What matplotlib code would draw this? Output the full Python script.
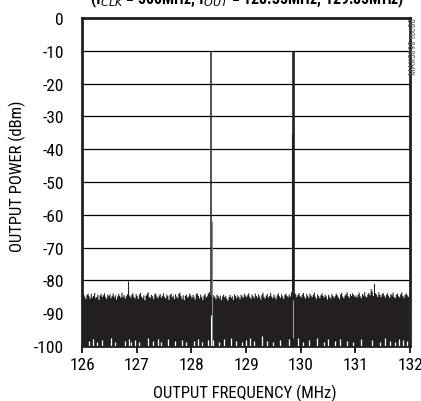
import numpy as np
import matplotlib
matplotlib.use("Agg")
import matplotlib.pyplot as plt
from matplotlib import font_manager

# condensed face if there is one, else plain Liberation Sans
installed = {f.name for f in font_manager.fontManager.ttflist}
family = 'Liberation Sans'
for name in ['Liberation Sans Narrow', 'Roboto Condensed', 'Arial Narrow']:
    if name in installed:
        family = name
        break
condensed = family != 'Liberation Sans'
plt.rcParams['font.family'] = [family, 'DejaVu Sans']

# noise floor, top edge of the trace, 0.02 MHz bins from 126 MHz
noise_freq_start = 126.0
noise_freq_step = 0.02
noise_top = [
    -85.2, -84.1, -84.8, -85.6, -84.3, -83.9, -84.7, -85.4, -84.0, -85.1, -84.6, -83.7, -85.3,
    -84.9, -84.2, -85.8, -84.5, -84.0, -85.0, -84.4, -83.8, -84.9, -85.5, -84.2, -84.7,
    -84.1, -85.3, -84.6, -83.9, -85.0, -84.4, -85.7, -84.8, -84.0, -84.6, -85.2, -83.6, -84.9,
    -84.3, -85.4, -84.7, -84.1, -80.2, -84.5, -85.1, -84.3, -83.8, -84.9, -85.4, -84.0,
    -84.6, -85.5, -84.2, -83.7, -84.8, -85.3, -84.4, -85.9, -84.6, -84.0, -83.5, -84.9, -85.2,
    -84.3, -84.7, -85.6, -84.1, -83.9, -84.8, -85.3, -84.5, -84.0, -85.1, -84.6, -83.8,
    -84.9, -85.4, -84.2, -84.7, -85.8, -84.3, -83.9, -85.0, -84.5, -85.6, -84.1, -84.8, -85.3,
    -84.0, -83.6, -84.7, -85.5, -84.4, -85.9, -84.6, -84.2, -85.1, -84.8, -83.9, -84.5,
    -85.2, -84.3, -84.9, -85.7, -84.1, -83.8, -84.6, -85.4, -84.2, -84.9, -85.8, -84.5, -84.0,
    -85.1, -84.7, -83.9, -83.4, -84.3, -84.8, -85.2, -84.4, -84.9, -85.6, -84.2, -84.7,
    -85.3, -84.5, -85.9, -84.8, -84.2, -85.0, -84.6, -85.5, -86.0, -84.9, -84.3, -85.2, -84.7,
    -85.8, -84.1, -84.6, -85.3, -84.4, -84.9, -85.6, -84.2, -84.8, -85.1, -84.0, -84.5,
    -85.0, -84.4, -83.8, -84.9, -85.5, -84.2, -84.7, -85.3, -83.9, -84.6, -85.2, -84.1, -84.8,
    -85.7, -84.3, -83.6, -84.9, -85.4, -84.5, -84.0, -85.1, -84.6, -83.7, -84.8, -85.3,
    -84.2, -84.9, -85.6, -84.4, -83.8, -84.7, -85.2, -84.1, -84.8, -85.5, -84.3, -83.9, -84.6,
    -85.0, -84.2, -84.8, -83.5, -83.2, -84.4, -83.6, -84.1, -84.9, -84.3, -83.7, -84.6,
    -85.1, -84.2, -83.7, -84.8, -85.4, -84.0, -84.6, -85.2, -83.9, -84.5, -85.0, -84.3, -83.6,
    -84.9, -85.5, -84.1, -84.7, -85.3, -84.4, -83.8, -84.6, -85.1, -84.2, -84.8, -85.7,
    -84.3, -84.9, -85.4, -84.0, -84.6, -85.2, -84.7, -83.9, -84.4, -85.0, -85.6, -84.2, -83.7,
    -84.8, -85.3, -84.5, -84.1, -83.5, -84.7, -85.2, -84.0, -84.6, -83.8, -84.3, -84.9,
    -84.5, -85.1, -84.2, -83.6, -84.7, -85.3, -84.0, -84.5, -83.4, -84.8, -85.0, -84.1, -83.7,
    -84.4, -82.5, -83.3, -84.6, -81.0, -83.8, -84.2, -84.9, -83.5, -84.3, -85.0, -84.1,
    -83.7, -84.5, -85.1, -84.3, -83.8, -84.6, -85.2, -84.0, -84.4, -83.6, -84.9, -85.3, -84.2,
    -83.9, -84.7, -85.0, -84.1, -83.5, -84.6, -85.2, -84.3, -83.8, -84.4, -84.9, -84.2,
]

# white gaps at the bottom of the noise (where the trace stayed above -100 dBm)
gap_freq = [126.12, 126.20, 126.27, 126.36, 126.52, 126.60, 126.78, 126.85, 126.90, 126.97,
            127.05, 127.20, 127.30, 127.38, 127.45, 127.58, 127.70, 127.82, 127.90, 128.05,
            128.12, 128.20, 128.30, 128.40, 128.50, 128.60, 128.72, 128.82, 128.92, 129.00,
            129.08, 129.14, 129.30, 129.38, 129.50, 129.62, 129.78, 129.95, 130.05, 130.15,
            130.30, 130.42, 130.50, 130.62, 130.72, 130.85, 130.95, 131.10, 131.30, 131.45,
            131.55, 131.63, 131.72, 131.80, 131.88, 131.95]
gap_level = [-98.6, -97.9, -98.8, -98.2, -97.6, -98.9, -98.4, -97.8, -98.7, -98.3,
             -98.9, -97.7, -98.5, -98.0, -98.8, -97.9, -98.6, -98.2, -98.9, -98.4,
             -97.8, -98.7, -98.3, -98.1, -98.8, -98.0, -97.6, -98.5, -98.9, -98.2,
             -97.7, -98.6, -97.0, -98.4, -98.8, -98.1, -97.9, -97.6, -98.7, -98.3,
             -97.5, -98.9, -98.0, -98.6, -97.8, -98.4, -98.8, -97.9, -98.2, -98.7,
             -97.6, -98.5, -98.9, -97.9, -98.3, -98.6]

# the two tones
tone_freq = [128.35, 129.85]
tone_level = [-10, -10]
tone_width = [1.1, 1.9]
# skirts beside the tones
skirt_freq = [128.368, 129.833]
skirt_level = [-62, -35]
skirt_color = ['#8a8a8a', '#231f20']
# light traces inside the noise at the tones
inner_freq = [128.35, 129.85]
inner_low = [-100, -97.5]
inner_high = [-90.5, -86]
inner_color = ['white', '#9a9a9a']

y_ticks = [0, -10, -20, -30, -40, -50, -60, -70, -80, -90, -100]
x_ticks = [126, 127, 128, 129, 130, 131, 132]

tick_size = 12.5 if condensed else 11
label_size = 12 if condensed else 9.8

fig = plt.figure(figsize=(4.21, 4.02), dpi=100)
ax = fig.add_axes([0.195, 0.137, 0.779, 0.816])

ink = '#231f20'
freq = noise_freq_start + noise_freq_step * np.arange(len(noise_top))
ax.fill_between(freq, -100, noise_top, step='mid', color=ink, lw=0, zorder=2)
ax.vlines(gap_freq, -100, gap_level, color='white', lw=0.9, zorder=3)

for f, lvl, w in zip(tone_freq, tone_level, tone_width):
    ax.vlines(f, -100, lvl, color=ink, lw=w, zorder=4)
for f, lvl, c in zip(skirt_freq, skirt_level, skirt_color):
    ax.vlines(f, -100, lvl, color=c, lw=0.8, zorder=3)
for f, lo, hi, c in zip(inner_freq, inner_low, inner_high, inner_color):
    ax.vlines(f, lo, hi, color=c, lw=0.8, zorder=5)

ax.set_xlim(126, 132)
ax.set_ylim(-100, 0)
ax.set_yticks(y_ticks)
ax.set_xticks(x_ticks)
ax.set_yticklabels([str(v) for v in y_ticks])
ax.set_xticklabels([str(v) for v in x_ticks])
ax.yaxis.grid(True, color='black', lw=0.9, zorder=1)
ax.set_axisbelow(True)

ax.tick_params(axis='y', length=0, pad=13, labelsize=tick_size)
ax.tick_params(axis='x', direction='out', length=5, width=1.2, pad=3, labelsize=tick_size)
for s in ax.spines.values():
    s.set_linewidth(2.0)
    s.set_color(ink)

fig.text(245 / 421, 1 - 393 / 402, "OUTPUT FREQUENCY (MHz)", ha='center', va='center',
         fontsize=label_size)
fig.text(17 / 421, 1 - 176 / 402, "OUTPUT POWER (dBm)", rotation=90, ha='center',
         va='center', fontsize=label_size)

# chopped-off condition line at the top of the picture
fig.text(247 / 421, 1 - 4 / 402, "(f$_{CLK}$ = 500MHz, f$_{OUT}$ = 128.35MHz, 129.85MHz)",
         ha='center', va='baseline', fontsize=11.4 if condensed else 10, fontweight='bold')
fig.text(0.982, 1 - 47 / 402, "MAX5890 toc08", rotation=90, ha='center', va='center',
         fontsize=6.5, color='#555555')

fig.savefig("out.png", dpi=100)
